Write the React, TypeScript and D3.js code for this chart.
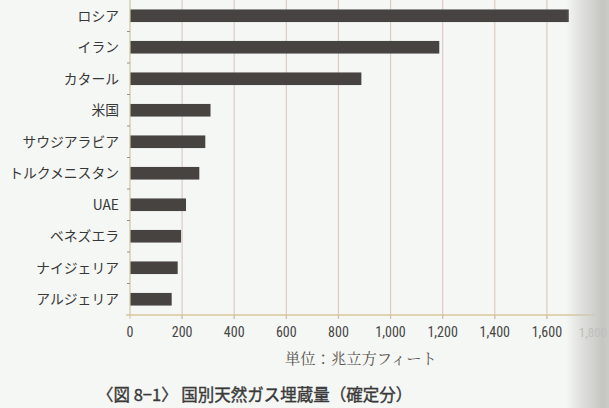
import React from "react";
import * as d3 from "d3";

const categories = ["ロシア", "イラン", "カタール", "米国", "サウジアラビア", "トルクメニスタン", "UAE", "ベネズエラ", "ナイジェリア", "アルジェリア"];
const reserves = [1684, 1187, 888, 309, 289, 266, 215, 196, 183, 160];
const xTicks = [0, 200, 400, 600, 800, 1000, 1200, 1400, 1600, 1800];
const unitLabel = "単位：兆立方フィート";
const title = "〈図 8−1〉 国別天然ガス埋蔵量（確定分）";

const W = 609;
const H = 408;

export default function App() {
  const x = d3.scaleLinear().domain([0, 1800]).range([130, 599]);
  const y = d3.scaleBand<string>().domain(categories).range([0, 315]).paddingInner(0.6).paddingOuter(0.3);
  const step = y.step();
  const y0 = 0;
  const y1 = 315;
  const fmt = d3.format(",");
  const jp = "'Noto Sans CJK JP', sans-serif";
  const num = "'Liberation Sans Narrow', 'Roboto Condensed', 'Liberation Sans', sans-serif";

  return (
    <svg width={W} height={H} style={{ position: "fixed", left: 0, top: 0, background: "#f5f7f4" }}>
      <defs>
        <linearGradient id="shade" x1="0" x2="1" y1="0" y2="0">
          <stop offset="0%" stopColor="#c2c2be" stopOpacity={0} />
          <stop offset="55%" stopColor="#c8c8c4" stopOpacity={0.7} />
          <stop offset="85%" stopColor="#c0c0bc" stopOpacity={0.9} />
          <stop offset="100%" stopColor="#c6c6c2" stopOpacity={0.9} />
        </linearGradient>
      </defs>
      <rect x={0} y={0} width={W} height={H} fill="#f5f7f4" />
      {/* vertical grid lines */}
      {xTicks.filter((t) => t > 0 && t < 1800).map((t) => (
        <line key={"g" + t} x1={x(t)} x2={x(t)} y1={y0} y2={y1 + 4} stroke="#dccbc3" strokeWidth={1.2} />
      ))}
      {/* bars */}
      {categories.map((c, i) => (
        <rect key={c} x={x(0)} y={y(c)!} width={x(reserves[i]) - x(0)} height={y.bandwidth()} fill="#474341" />
      ))}
      {/* y axis */}
      <line x1={x(0)} x2={x(0)} y1={y0} y2={y1} stroke="#cfc3a8" strokeWidth={1.2} />
      {d3.range(1, categories.length).map((k) => (
        <line key={"yt" + k} x1={x(0) - 3} x2={x(0)} y1={k * step} y2={k * step} stroke="#9a9088" strokeWidth={1} />
      ))}
      {/* x axis */}
      <line x1={126} x2={595} y1={y1} y2={y1} stroke="#d8c79c" strokeWidth={1.3} />
      {xTicks.filter((t) => t < 1800).map((t) => (
        <line key={"xt" + t} x1={x(t)} x2={x(t)} y1={y1} y2={y1 + 4} stroke="#cdbfae" strokeWidth={1} />
      ))}
      {xTicks.map((t) => {
        const last = t === xTicks[xTicks.length - 1];
        return (
          <text
            key={"xl" + t}
            x={last ? W - 2 : x(t)}
            y={337}
            textAnchor={last ? "end" : "middle"}
            fontFamily={num}
            fontSize={last ? 13 : 14}
            fill={last ? "#b0b0ac" : "#454545"}
          >
            {fmt(t)}
          </text>
        );
      })}
      {/* category labels */}
      {categories.map((c) => (
        <text key={"l" + c} x={119} y={y(c)! + y.bandwidth() / 2} dy="0.36em" textAnchor="end" fontFamily={jp} fontSize={13.8} fill="#383838">
          {c}
        </text>
      ))}
      {/* unit */}
      <text x={285} y={364} fontFamily="'Noto Serif CJK JP', 'Noto Sans CJK JP', serif" fontSize={15.3} fill="#5a5650">
        {unitLabel}
      </text>
      {/* title */}
      <text x={97} y={401} fontFamily={jp} fontSize={16.5} fill="#3a3a3a" stroke="#3a3a3a" strokeWidth={0.4}>
        {title}
      </text>
      {/* scan shadow on right edge */}
      <rect x={566} y={0} width={W - 566} height={H} fill="url(#shade)" />
    </svg>
  );
}
